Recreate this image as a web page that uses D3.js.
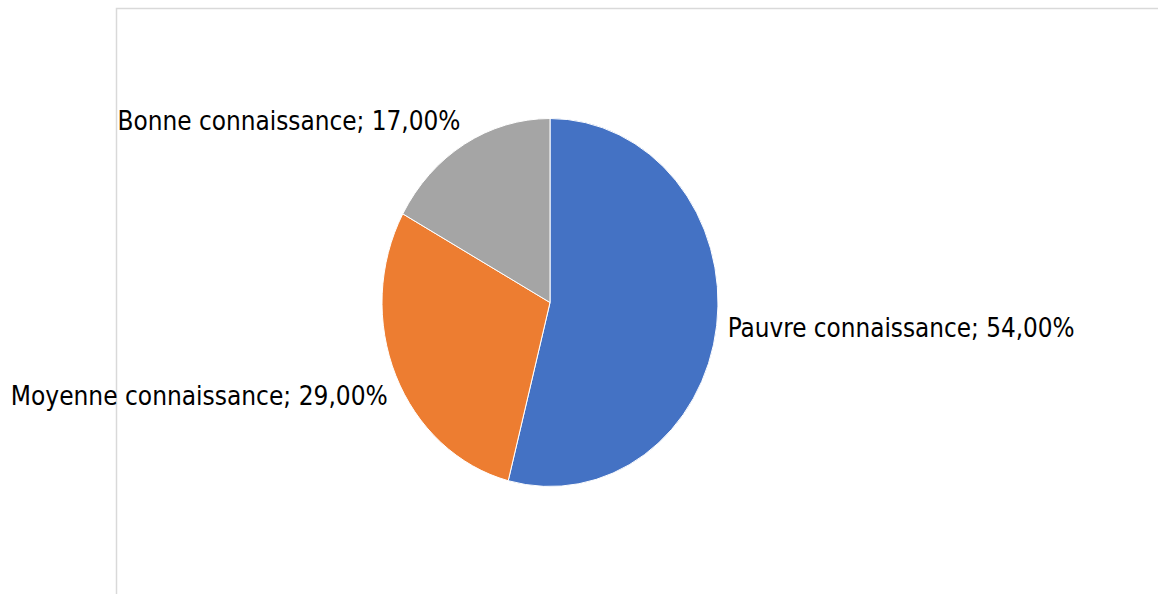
<!DOCTYPE html>
<html>
<head>
<meta charset="utf-8">
<script src="https://cdn.jsdelivr.net/npm/d3@7"></script>
<style>
  html, body { margin: 0; padding: 0; background: #ffffff; }
  svg { display: block; }
  text { font-family: "DejaVu Sans Condensed", "DejaVu Sans", sans-serif; fill: #000000; }
</style>
</head>
<body>
<svg id="chart" width="1158" height="594"></svg>
<script>
// Knowledge level shares (percent)
const categories = ["Pauvre connaissance", "Moyenne connaissance", "Bonne connaissance"];
const values = [54, 29, 17];
const colors = ["#4472c4", "#ed7d31", "#a5a5a5"];

const W = 1158, H = 594;
const svg = d3.select("#chart");

// Chart area frame (left and top edges visible)
svg.append("rect")
  .attr("x", 116.5).attr("y", 8.5)
  .attr("width", 1200).attr("height", 700)
  .attr("fill", "none")
  .attr("stroke", "#d9d9d9")
  .attr("stroke-width", 1.5);

const cx = 550, cy = 302.5;
const ry = 184, rx = 168;
const sx = rx / ry;

const pie = d3.pie().sort(null).value(d => d)(values);
const arc = d3.arc().innerRadius(0).outerRadius(ry);

const g = svg.append("g")
  .attr("transform", `translate(${cx},${cy}) scale(${sx},1)`);

g.selectAll("path")
  .data(pie)
  .join("path")
  .attr("d", arc)
  .attr("fill", (d, i) => colors[i])
  .attr("stroke", "#ffffff")
  .attr("stroke-width", 1)
  .attr("vector-effect", "non-scaling-stroke");

// Data labels placed beside each slice's outer edge
const fmt = v => d3.format(".2f")(v).replace(".", ",") + "%";
const labelStyle = [
  { anchor: "start", dx: 11, dy: 11, len: 347 },
  { anchor: "end", dx: -8, dy: 29, len: 377 },
  { anchor: "end", dx: -4, dy: -14, len: 343 }
];

pie.forEach((d, i) => {
  const a = (d.startAngle + d.endAngle) / 2;
  const px = cx + rx * Math.sin(a);
  const py = cy - ry * Math.cos(a);
  const s = labelStyle[i];
  svg.append("text")
    .attr("x", px + s.dx)
    .attr("y", py + s.dy)
    .attr("text-anchor", s.anchor)
    .attr("font-size", 26)
    .attr("textLength", s.len)
    .attr("lengthAdjust", "spacingAndGlyphs")
    .text(`${categories[i]}; ${fmt(values[i])}`);
});
</script>
</body>
</html>
